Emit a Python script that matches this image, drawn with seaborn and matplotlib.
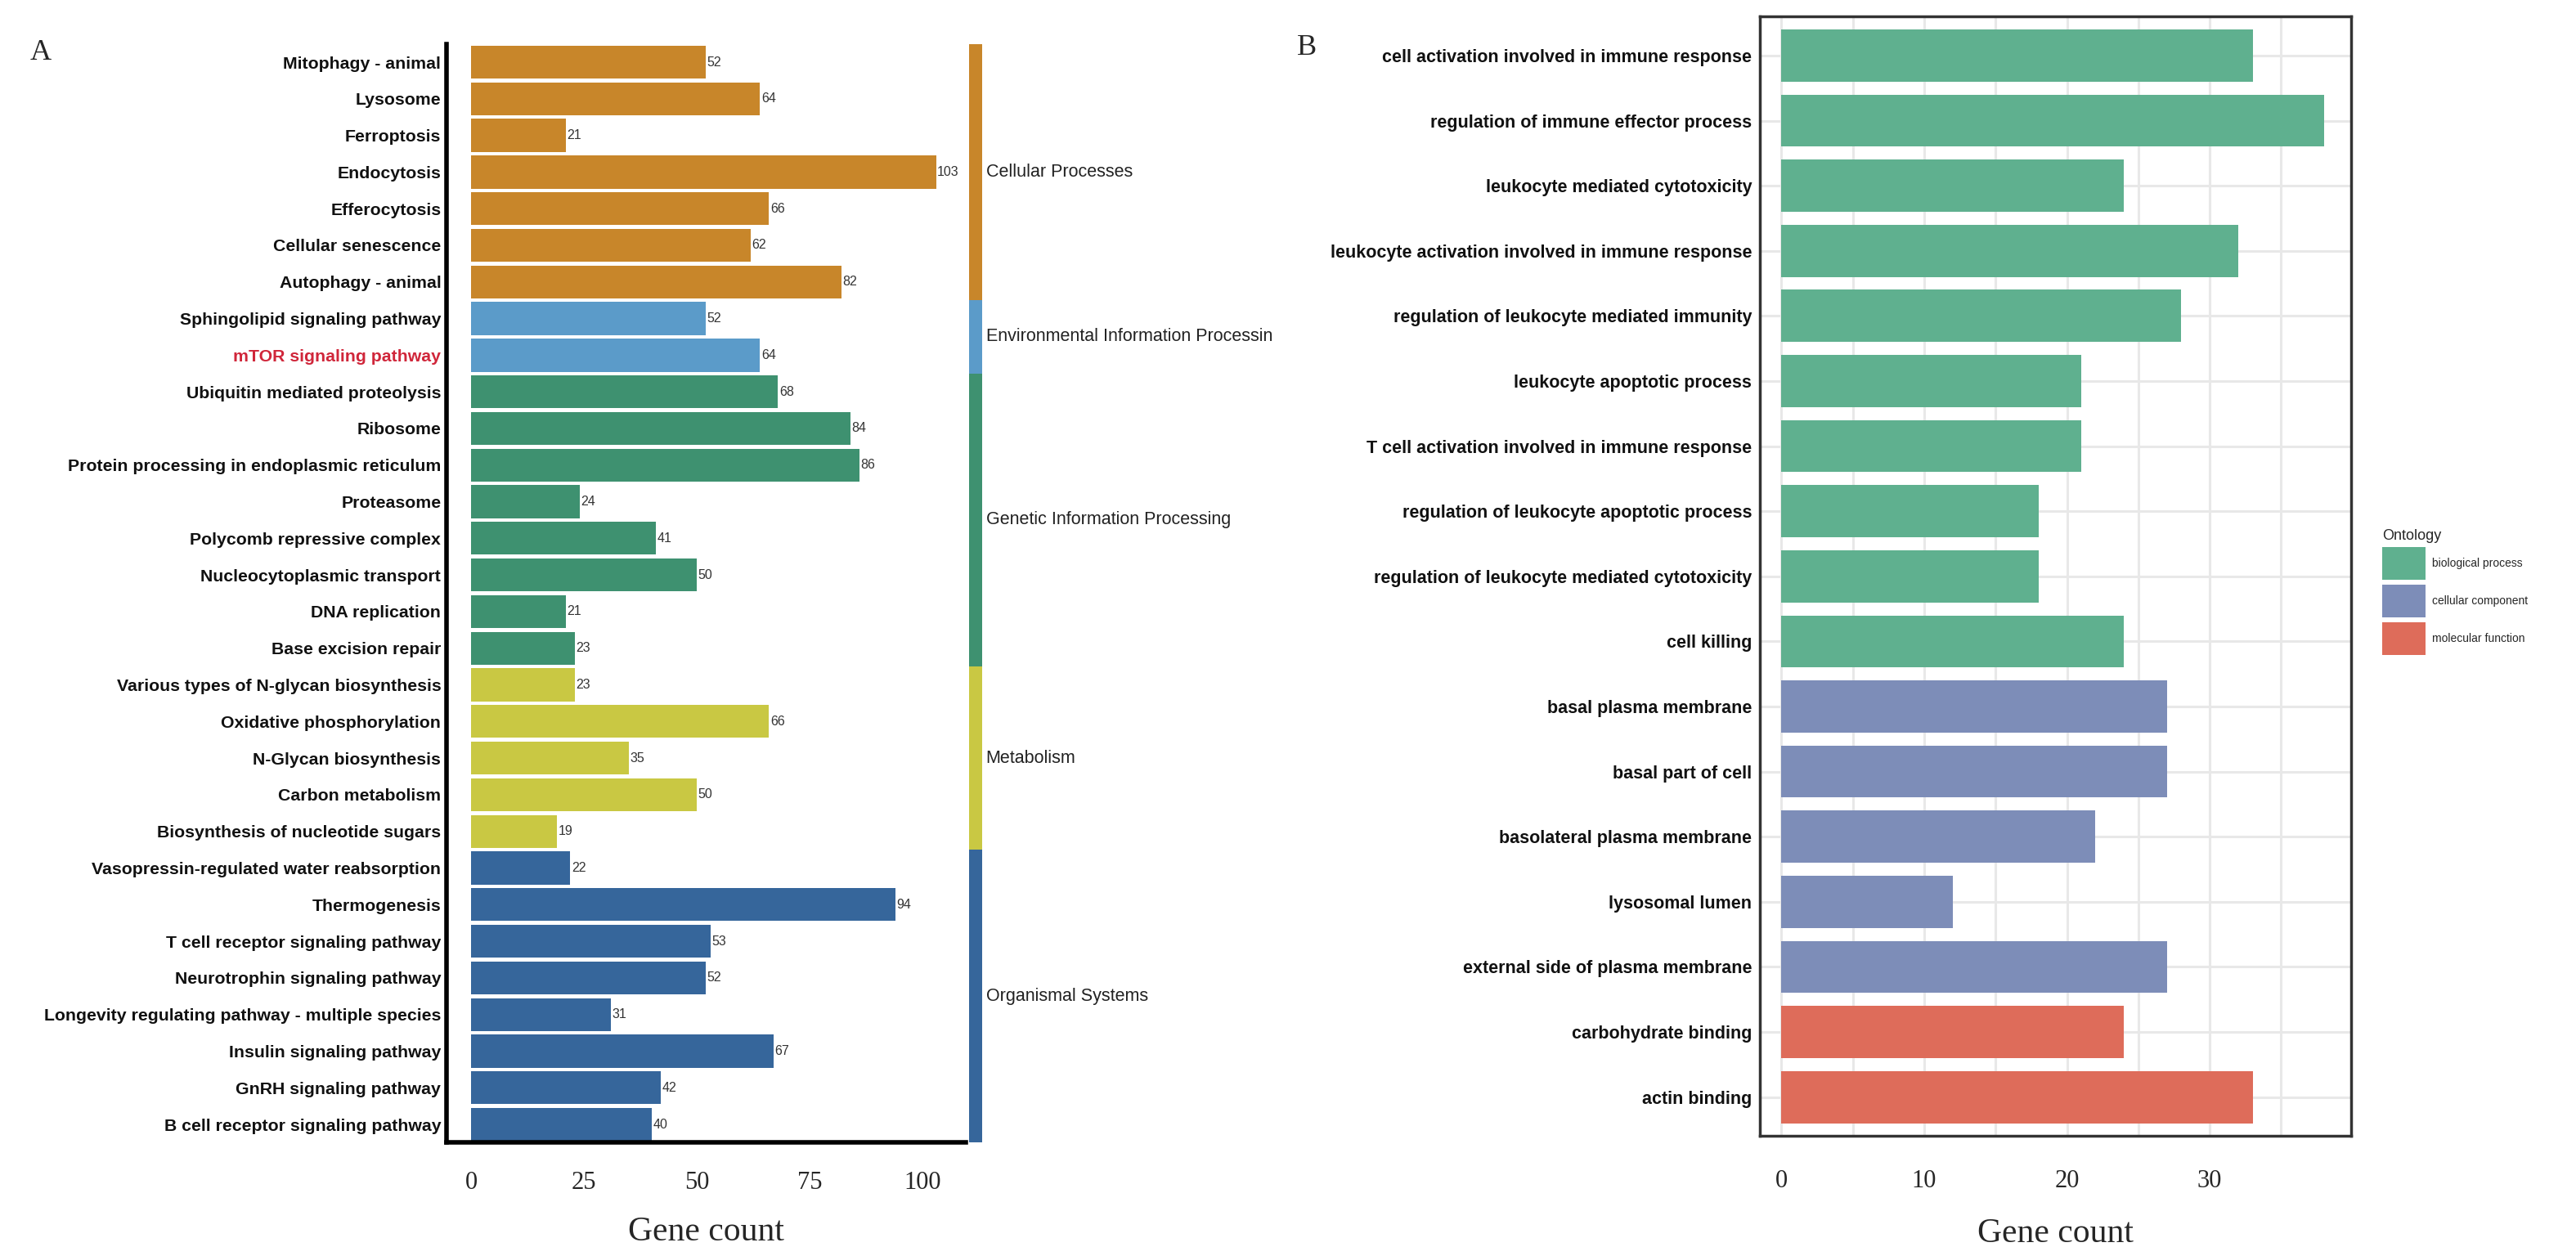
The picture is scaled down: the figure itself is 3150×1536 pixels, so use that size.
import matplotlib
matplotlib.use("Agg")
import matplotlib.pyplot as plt
import matplotlib.transforms as mtransforms
import seaborn as sns
import pandas as pd
import numpy as np

# ---------------- data: panel A (KEGG) ----------------
kegg_terms = [
    "Mitophagy - animal", "Lysosome", "Ferroptosis", "Endocytosis", "Efferocytosis",
    "Cellular senescence", "Autophagy - animal",
    "Sphingolipid signaling pathway", "mTOR signaling pathway",
    "Ubiquitin mediated proteolysis", "Ribosome", "Protein processing in endoplasmic reticulum",
    "Proteasome", "Polycomb repressive complex", "Nucleocytoplasmic transport",
    "DNA replication", "Base excision repair",
    "Various types of N-glycan biosynthesis", "Oxidative phosphorylation",
    "N-Glycan biosynthesis", "Carbon metabolism", "Biosynthesis of nucleotide sugars",
    "Vasopressin-regulated water reabsorption", "Thermogenesis",
    "T cell receptor signaling pathway", "Neurotrophin signaling pathway",
    "Longevity regulating pathway - multiple species", "Insulin signaling pathway",
    "GnRH signaling pathway", "B cell receptor signaling pathway",
]
kegg_counts = [52, 64, 21, 103, 66, 62, 82,
               52, 64,
               68, 84, 86, 24, 41, 50, 21, 23,
               23, 66, 35, 50, 19,
               22, 94, 53, 52, 31, 67, 42, 40]
kegg_classes = (["Cellular Processes"] * 7
                + ["Environmental Information Processin"] * 2
                + ["Genetic Information Processing"] * 8
                + ["Metabolism"] * 5
                + ["Organismal Systems"] * 8)
class_order = ["Cellular Processes", "Environmental Information Processin",
               "Genetic Information Processing", "Metabolism", "Organismal Systems"]
class_colors = ["#C8862A", "#5B9BC9", "#3E9170", "#C9C843", "#36669B"]
highlight_term = "mTOR signaling pathway"

# ---------------- data: panel B (GO) ----------------
go_terms = [
    "cell activation involved in immune response",
    "regulation of immune effector process",
    "leukocyte mediated cytotoxicity",
    "leukocyte activation involved in immune response",
    "regulation of leukocyte mediated immunity",
    "leukocyte apoptotic process",
    "T cell activation involved in immune response",
    "regulation of leukocyte apoptotic process",
    "regulation of leukocyte mediated cytotoxicity",
    "cell killing",
    "basal plasma membrane",
    "basal part of cell",
    "basolateral plasma membrane",
    "lysosomal lumen",
    "external side of plasma membrane",
    "carbohydrate binding",
    "actin binding",
]
go_counts = [33, 38, 24, 32, 28, 21, 21, 18, 18, 24, 27, 27, 22, 12, 27, 24, 33]
go_ontology = (["biological process"] * 10 + ["cellular component"] * 5
               + ["molecular function"] * 2)
onto_order = ["biological process", "cellular component", "molecular function"]
onto_colors = ["#5FB08F", "#7D8DB8", "#DE6C5A"]

# ---------------- styling ----------------
sns.set_style("white")
plt.rcParams["font.family"] = ["Liberation Sans", "DejaVu Sans"]
SERIF = ["Liberation Serif", "DejaVu Serif"]

dfA = pd.DataFrame({"term": kegg_terms, "count": kegg_counts, "cls": kegg_classes})
dfA["strip"] = 1
dfB = pd.DataFrame({"term": go_terms, "count": go_counts, "Ontology": go_ontology})

fig = plt.figure(figsize=(31.5, 15.36), dpi=100)

# ---------------- panel A ----------------
A_BOTTOM, A_HEIGHT = 0.0902, 0.8749
axA = fig.add_axes([0.1734, A_BOTTOM, 0.2014, A_HEIGHT])
sns.barplot(data=dfA, y="term", x="count", hue="cls", order=kegg_terms,
            hue_order=class_order, palette=class_colors, dodge=False,
            width=0.9, orient="h", ax=axA, legend=False, saturation=1,
            edgecolor="none")
for cont in axA.containers:
    axA.bar_label(cont, fmt="{:.0f}", fontsize=11.5, padding=1, color="#333333")
axA.set_xlim(-5.4, 109.5)
axA.set_ylim(29.585, -0.6)
axA.set_xticks([0, 25, 50, 75, 100])
axA.set_xlabel("Gene count", fontsize=30, family=SERIF, labelpad=19)
axA.set_ylabel("")
for s in ["top", "right"]:
    axA.spines[s].set_visible(False)
for s in ["left", "bottom"]:
    axA.spines[s].set_linewidth(4)
    axA.spines[s].set_color("black")
axA.tick_params(axis="x", length=5, width=3, color="#333333", pad=20,
                labelsize=22)
axA.tick_params(axis="y", length=0, pad=5)
for lab in axA.get_xticklabels():
    lab.set_family(SERIF)
for lab in axA.get_yticklabels():
    lab.set_fontsize(15.3)
    lab.set_fontweight("bold")
    lab.set_color("#D0263A" if lab.get_text() == highlight_term else "#111111")

# category strip
axS = fig.add_axes([0.3762, A_BOTTOM, 0.0052, A_HEIGHT], sharey=axA)
sns.barplot(data=dfA, y="term", x="strip", hue="cls", order=kegg_terms,
            hue_order=class_order, palette=class_colors, dodge=False,
            width=1.0, orient="h", ax=axS, legend=False, saturation=1,
            edgecolor="none", linewidth=0)
axS.set_xlim(0, 1)
axS.axis("off")
trans = mtransforms.blended_transform_factory(axS.transAxes, axS.transData)
for cls in class_order:
    idx = [i for i, c in enumerate(kegg_classes) if c == cls]
    axS.text(1.25, np.mean(idx), cls, transform=trans, ha="left", va="center",
             fontsize=15.5, color="#222222")

# ---------------- panel B ----------------
axB = fig.add_axes([0.6832, 0.0954, 0.2295, 0.8915])
sns.barplot(data=dfB, y="term", x="count", hue="Ontology", order=go_terms,
            hue_order=onto_order, palette=onto_colors, dodge=False,
            width=0.8, orient="h", ax=axB, saturation=1, edgecolor="none")
axB.set_xlim(-1.5, 39.9)
axB.set_ylim(len(go_terms) - 0.4, -0.6)
axB.set_xticks([0, 10, 20, 30])
axB.set_xticks([5, 15, 25, 35], minor=True)
axB.grid(True, which="major", axis="both", color="#E8E8E8", lw=2.2)
axB.grid(True, which="minor", axis="x", color="#E8E8E8", lw=2.2)
axB.set_axisbelow(True)
axB.set_xlabel("Gene count", fontsize=30, family=SERIF, labelpad=22)
axB.set_ylabel("")
for s in axB.spines.values():
    s.set_linewidth(2.5)
    s.set_color("#333333")
axB.tick_params(axis="x", which="major", length=5, width=3, color="#333333",
                pad=24, labelsize=22)
axB.tick_params(axis="x", which="minor", length=0)
axB.tick_params(axis="y", length=5, width=3, color="#333333", pad=2)
for lab in axB.get_xticklabels():
    lab.set_family(SERIF)
for lab in axB.get_yticklabels():
    lab.set_fontsize(15.5)
    lab.set_fontweight("bold")
    lab.set_color("#111111")
leg = axB.legend(title="Ontology", loc="center left", bbox_to_anchor=(1.035, 0.486),
                 frameon=False, fontsize=10, title_fontsize=13,
                 handlelength=3.8, handleheight=4.1, labelspacing=0.4,
                 handletextpad=0.6)
leg._legend_box.align = "left"

# panel letters
fig.text(0.0115, 0.958, "A", fontsize=26, family=SERIF, va="center", ha="left")
fig.text(0.5035, 0.962, "B", fontsize=26, family=SERIF, va="center", ha="left")

fig.savefig("out.png", dpi=100, facecolor="white")
